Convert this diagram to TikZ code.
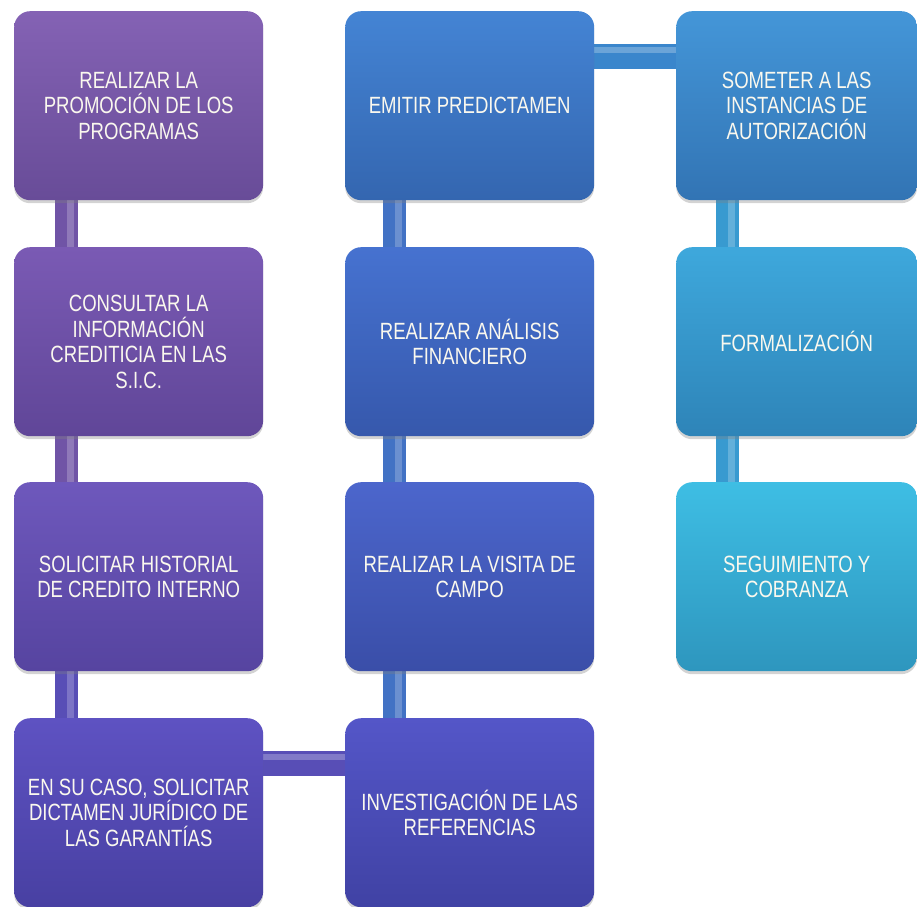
\documentclass[tikz,border=0pt]{standalone}
\usepackage{fontspec}
\setmainfont[FakeStretch=0.79]{Liberation Sans}
\usetikzlibrary{shadows,backgrounds}
\definecolor{pA1}{RGB}{132,98,180}\definecolor{pA2}{RGB}{104,76,152}
\definecolor{pB1}{RGB}{122,90,180}\definecolor{pB2}{RGB}{96,70,152}
\definecolor{pC1}{RGB}{110,88,188}\definecolor{pC2}{RGB}{86,68,160}
\definecolor{pD1}{RGB}{94,82,194}\definecolor{pD2}{RGB}{72,64,162}
\definecolor{bA1}{RGB}{68,132,212}\definecolor{bA2}{RGB}{52,102,176}
\definecolor{bB1}{RGB}{70,114,208}\definecolor{bB2}{RGB}{54,88,172}
\definecolor{bC1}{RGB}{76,102,204}\definecolor{bC2}{RGB}{58,78,168}
\definecolor{bD1}{RGB}{84,86,200}\definecolor{bD2}{RGB}{64,66,164}
\definecolor{cA1}{RGB}{68,150,216}\definecolor{cA2}{RGB}{50,116,180}
\definecolor{cB1}{RGB}{62,168,220}\definecolor{cB2}{RGB}{46,132,184}
\definecolor{cC1}{RGB}{62,190,228}\definecolor{cC2}{RGB}{46,150,190}
\definecolor{barP}{RGB}{112,84,166}
\definecolor{barQ}{RGB}{88,78,182}
\definecolor{barB}{RGB}{66,114,196}
\definecolor{barT}{RGB}{58,134,204}
\definecolor{barC}{RGB}{56,154,208}
\definecolor{txt}{RGB}{250,248,238}
\begin{document}
\begin{tikzpicture}[x=1pt,y=1pt,
  box/.style={rounded corners=16pt, minimum width=249pt, minimum height=189pt,
    inner sep=0pt, align=center, text=txt, font=\fontsize{23.5}{25.5}\selectfont,
    drop shadow={opacity=0.35, shadow xshift=0pt, shadow yshift=-3pt},
    anchor=north west},
  fillc/.style 2 args={top color=#1, bottom color=#2},
  vbar/.style={line width=23pt, postaction={draw=white, draw opacity=0.22, line width=7pt, transform canvas={xshift=4pt}}},
  hbar/.style={line width=25pt, postaction={draw=white, draw opacity=0.25, line width=6pt, transform canvas={yshift=7pt}}},
]
\useasboundingbox (0,0) rectangle (917,906);
\clip (0,0) rectangle (917,906);

% column 1
\node[box, fillc={pA1}{pA2}] (a1) at (14,895) {REALIZAR LA\\PROMOCIÓN DE LOS\\PROGRAMAS};
\node[box, fillc={pB1}{pB2}] (a2) at (14,659) {CONSULTAR LA\\INFORMACIÓN\\CREDITICIA EN LAS\\S.I.C.};
\node[box, fillc={pC1}{pC2}] (a3) at (14,424) {SOLICITAR HISTORIAL\\DE CREDITO INTERNO};
\node[box, fillc={pD1}{pD2}] (a4) at (14,188) {EN SU CASO, SOLICITAR\\DICTAMEN JURÍDICO DE\\LAS GARANTÍAS};

% column 2
\node[box, fillc={bA1}{bA2}] (b1) at (345,895) {EMITIR PREDICTAMEN};
\node[box, fillc={bB1}{bB2}] (b2) at (345,659) {REALIZAR ANÁLISIS\\FINANCIERO};
\node[box, fillc={bC1}{bC2}] (b3) at (345,424) {REALIZAR LA VISITA DE\\CAMPO};
\node[box, fillc={bD1}{bD2}] (b4) at (345,188) {INVESTIGACIÓN DE LAS\\REFERENCIAS};

% column 3
\node[box, fillc={cA1}{cA2}, minimum width=241pt] (c1) at (676,895) {SOMETER A LAS\\INSTANCIAS DE\\AUTORIZACIÓN};
\node[box, fillc={cB1}{cB2}, minimum width=241pt] (c2) at (676,659) {FORMALIZACIÓN};
\node[box, fillc={cC1}{cC2}, minimum width=241pt] (c3) at (676,424) {SEGUIMIENTO Y\\COBRANZA};

\begin{scope}[on background layer]
\draw[vbar, barP] ([xshift=-72pt]a1.south) -- ([xshift=-72pt]a2.north);
\draw[vbar, barP] ([xshift=-72pt]a2.south) -- ([xshift=-72pt]a3.north);
\draw[vbar, barQ] ([xshift=-72pt]a3.south) -- ([xshift=-72pt]a4.north);
\draw[hbar, barQ] ([yshift=49pt]a4.east) -- ([yshift=49pt]b4.west);
\draw[vbar, barB] ([xshift=-75pt]b4.north) -- ([xshift=-75pt]b3.south);
\draw[vbar, barB] ([xshift=-75pt]b3.north) -- ([xshift=-75pt]b2.south);
\draw[vbar, barB] ([xshift=-75pt]b2.north) -- ([xshift=-75pt]b1.south);
\draw[hbar, barT] ([yshift=49pt]b1.east) -- ([yshift=49pt]c1.west);
\draw[vbar, barC] ([xshift=-69pt]c1.south) -- ([xshift=-69pt]c2.north);
\draw[vbar, barC] ([xshift=-69pt]c2.south) -- ([xshift=-69pt]c3.north);
\end{scope}
\end{tikzpicture}
\end{document}
